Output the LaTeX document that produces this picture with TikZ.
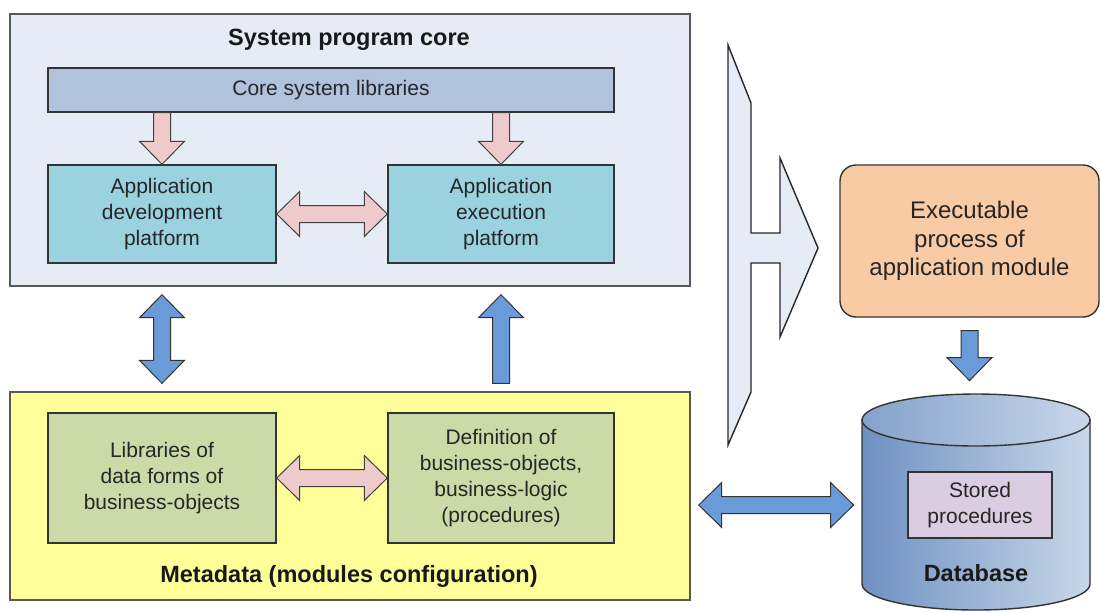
\documentclass[tikz,border=0pt]{standalone}
\usepackage{fontspec}
\setmainfont{Liberation Sans}
\usetikzlibrary{calc}
\definecolor{corebg}{HTML}{E6ECF6}
\definecolor{libbg}{HTML}{B0C2DC}
\definecolor{platbg}{HTML}{9AD2DF}
\definecolor{metabg}{HTML}{FFFF99}
\definecolor{formbg}{HTML}{CCDAA8}
\definecolor{procbg}{HTML}{F8CBA5}
\definecolor{storedbg}{HTML}{DACDE2}
\definecolor{arrowpink}{HTML}{EECACA}
\definecolor{arrowblue}{HTML}{6A9BD8}
\definecolor{dbdark}{HTML}{6E91C3}
\definecolor{dblight}{HTML}{C9D7E9}
\def\headlen{11.5pt}
\def\headw{11.25pt}
\def\shaftw{4.25pt}
\newcommand\fatarrow[4][0pt]{%
  \path ($(#3)!#1!(#4)$) coordinate (fa-a) ($(#4)!#1!(#3)$) coordinate (fa-b);
  \path ($(fa-b)!\headlen!(fa-a)$) coordinate (fa-n);
  \draw[#2] ($(fa-a)!\shaftw!90:(fa-b)$) -- ($(fa-n)!\shaftw!90:(fa-b)$) -- ($(fa-n)!\headw!90:(fa-b)$)
    -- (fa-b) -- ($(fa-n)!\headw!-90:(fa-b)$) -- ($(fa-n)!\shaftw!-90:(fa-b)$) -- ($(fa-a)!\shaftw!-90:(fa-b)$) -- cycle;}
\newcommand\fatdarrow[4][0pt]{%
  \path ($(#3)!#1!(#4)$) coordinate (fa-a) ($(#4)!#1!(#3)$) coordinate (fa-b);
  \path ($(fa-a)!\headlen!(fa-b)$) coordinate (fa-m) ($(fa-b)!\headlen!(fa-a)$) coordinate (fa-n);
  \draw[#2] (fa-a) -- ($(fa-m)!\headw!90:(fa-b)$) -- ($(fa-m)!\shaftw!90:(fa-b)$) -- ($(fa-n)!\shaftw!90:(fa-b)$)
    -- ($(fa-n)!\headw!90:(fa-b)$) -- (fa-b) -- ($(fa-n)!\headw!-90:(fa-b)$) -- ($(fa-n)!\shaftw!-90:(fa-b)$)
    -- ($(fa-m)!\shaftw!-90:(fa-b)$) -- ($(fa-m)!\headw!-90:(fa-b)$) -- cycle;}
\begin{document}
\begin{tikzpicture}[x=0.5pt,y=-0.5pt,line join=miter,font=\fontsize{10.5}{13}\selectfont]
  \tikzset{box/.style={draw=black!80,line width=0.7pt,align=center,inner sep=0pt,text=black!85},
    title/.style={font=\fontsize{11.75}{14}\selectfont\bfseries,text=black!90},
    pinkarrow/.style={draw=black!75,fill=arrowpink,line width=0.5pt},
    bluearrow/.style={draw=black!80,fill=arrowblue,line width=0.5pt},
    bigarrow/.style={draw=black!85,fill=corebg,line width=0.7pt}}
  \useasboundingbox (0,0) rectangle (1101,612);
  \node[box,fill=corebg,draw=black!65,minimum width=340pt,minimum height=136pt] (core) at (350,150) {};
  \node[title] (coretitle) at (349,40) {System program core};
  \node[box,fill=libbg,minimum width=283pt,minimum height=22pt] (lib) at (331,90) {Core system libraries};
  \node[box,fill=platbg,minimum width=114pt,minimum height=49pt] (dev) at (162,214) {Application\\development\\platform};
  \node[box,fill=platbg,minimum width=113pt,minimum height=49pt] (exe) at (501,214) {Application\\execution\\platform};
  \node[box,fill=metabg,draw=black!65,minimum width=340pt,minimum height=104pt] (meta) at (350,496) {};
  \node[box,fill=formbg,minimum width=114pt,minimum height=65pt] (forms) at (162,478) {Libraries of\\data forms of\\business-objects};
  \node[box,fill=formbg,minimum width=113pt,minimum height=65pt] (defn) at (501,478) {Definition of\\business-objects,\\business-logic\\(procedures)};
  \node[title] (metatitle) at (349,576) {Metadata (modules configuration)};
  \node[box,fill=procbg,rounded corners=8pt,font=\fontsize{12}{14.25}\selectfont,minimum width=129.5pt,minimum height=76pt] (proc) at (969.5,241) {Executable\\process of\\application module};
  \shade[left color=dbdark,right color=dblight,draw=black!80,line width=0.7pt] (862,420) -- (862,584)
    arc[start angle=180,end angle=360,x radius=57pt,y radius=13pt] -- (1090,420) -- cycle;
  \shade[left color=dbdark!85!white,right color=dblight,draw=black!80,line width=0.7pt] (976,420) ellipse[x radius=57pt,y radius=13pt];
  \node[inner sep=0pt,minimum width=114pt,minimum height=111pt] (db) at (976,505) {};
  \node[box,fill=storedbg,minimum width=72pt,minimum height=33pt] (stored) at (980,505) {Stored\\procedures};
  \node[title] (dblabel) at (976,573) {Database};
  \draw[bigarrow] (728,45) -- (751,103) -- (751,233) -- (780,233) -- (780,158) -- (818,248) -- (780,337)
    -- (780,263) -- (751,263) -- (751,392) -- (728,445) -- cycle;
  \fatarrow{pinkarrow}{lib.south -| dev.north}{dev.north}
  \fatarrow{pinkarrow}{lib.south -| exe.north}{exe.north}
  \fatdarrow{pinkarrow}{dev.east}{exe.west}
  \fatdarrow{pinkarrow}{forms.east}{defn.west}
  \fatdarrow[4pt]{bluearrow}{core.south -| dev.south}{meta.north -| forms.north}
  \fatarrow[4pt]{bluearrow}{meta.north -| defn.north}{core.south -| exe.south}
  \fatarrow[6.5pt]{bluearrow}{proc.south}{proc.south |- db.north}
  \fatdarrow[4pt]{bluearrow}{meta.east |- db.west}{db.west}
\end{tikzpicture}
\end{document}
